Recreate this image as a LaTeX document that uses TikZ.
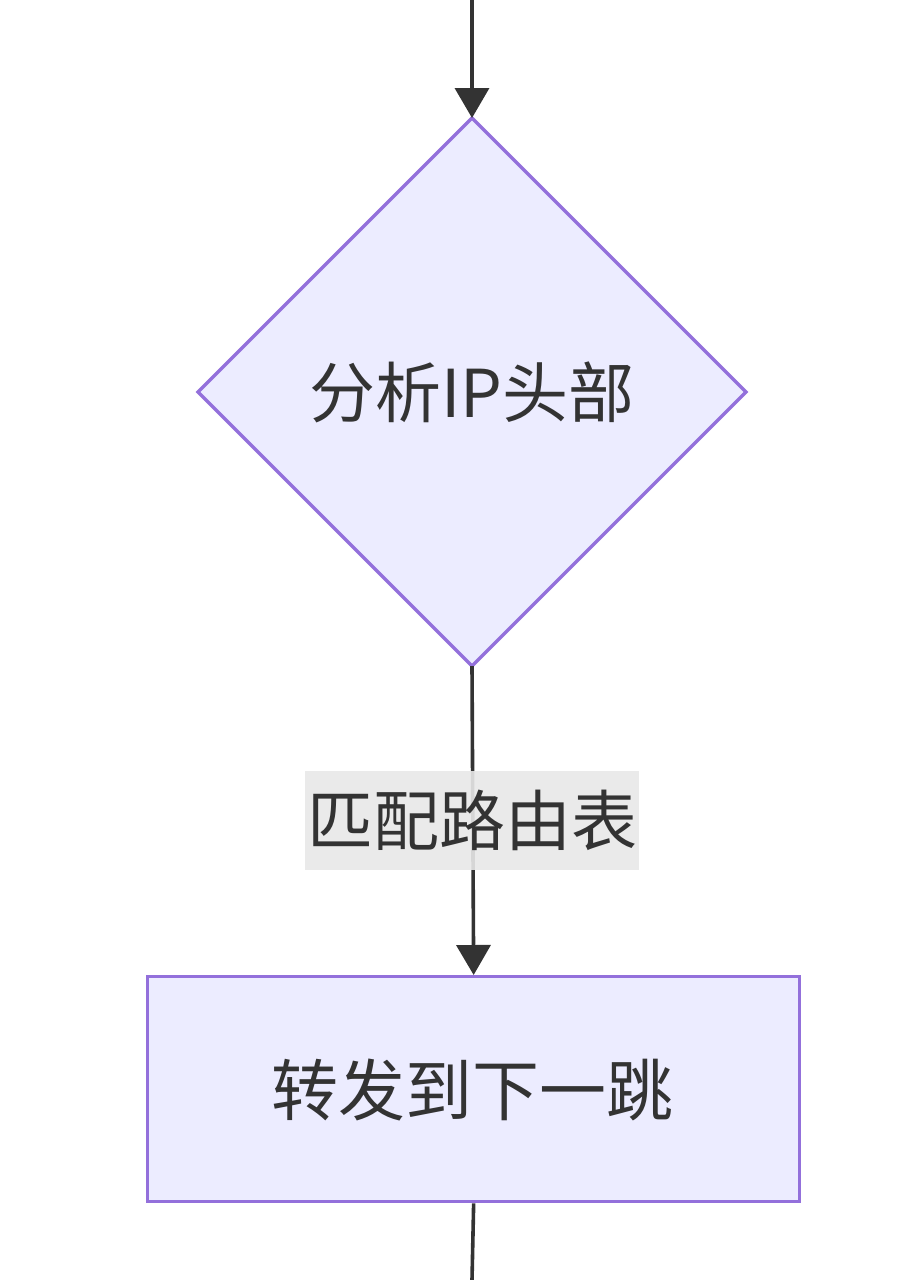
\documentclass[tikz,border=0pt]{standalone}
\usepackage{fontspec}
\setmainfont{Noto Sans CJK SC}
\usetikzlibrary{shapes.geometric,arrows.meta}
\definecolor{lineC}{HTML}{333333}
\definecolor{borderC}{HTML}{9370DB}
\definecolor{fillC}{HTML}{ECECFF}
\definecolor{labelC}{HTML}{E8E8E8}
\tikzset{
  flow/.style={draw=lineC, line width=3.6pt, -{Triangle[length=30pt,width=34pt]}},
  plainflow/.style={draw=lineC, line width=3.6pt},
  txt/.style={text=lineC, font=\fontsize{66}{72}\selectfont},
}
\begin{document}
\begin{tikzpicture}[x=1pt,y=-1pt]
\useasboundingbox (0,0) rectangle (912,1280);
\fill[white] (0,0) rectangle (912,1280);
% diamond
\coordinate (dT) at (472,118);
\coordinate (dB) at (472,666);
\draw[draw=borderC, fill=fillC, line width=3.3pt, line join=miter] (472,118) -- (746,392) -- (472,666) -- (198,392) -- cycle;
\node[txt] (d) at (472,392) {分析IP头部};
% rectangle
\node[draw=borderC, fill=fillC, line width=3.3pt, minimum width=652pt, minimum height=225pt, inner sep=0pt, anchor=north west] (r) at (146,975) {};
\node[txt, font=\fontsize{67}{72}\selectfont] (rt) at (472,1090) {转发到下一跳};
\coordinate (top) at (472,0);
\coordinate (bot) at (472,1280);
\draw[flow] (top) -- (dT);
\draw[flow] (dB) -- (r.north);
\draw[plainflow] (r.south) -- (bot);
% label
\node[fill=labelC, fill opacity=0.9, text opacity=1, minimum width=334pt, minimum height=99pt, inner sep=0pt, txt] (lab) at (472,820.5) {匹配路由表};
\end{tikzpicture}
\end{document}
